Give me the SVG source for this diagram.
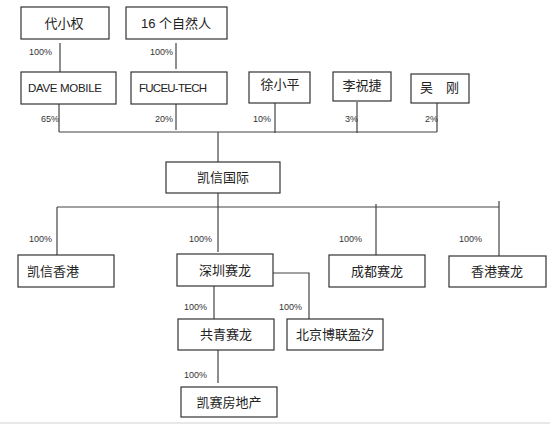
<svg xmlns="http://www.w3.org/2000/svg" width="550" height="424" viewBox="0 0 550 424">
<style>
.box{fill:#fff;stroke:#333;stroke-width:1.2}
.t{font-family:"Liberation Sans","Noto Sans CJK SC",sans-serif;font-size:13px;fill:#222}
.c{text-anchor:middle}
.e{font-family:"Liberation Sans","Noto Sans CJK SC",sans-serif;font-size:11.5px;fill:#222}
.p{font-family:"Liberation Sans",sans-serif;font-size:9px;fill:#333}
.ln{fill:none;stroke:#444;stroke-width:1.2}
</style>
<rect width="550" height="424" fill="#fff"/>
<rect x="0" y="422" width="550" height="2" fill="#e8e8e8"/>
<g id="connectors">
<path class="ln" d="M60 43V73M176 43V69M59 104V132M176 104V130M275 103V133M357 102V133M437 103V132M59 132H437M218 132V163M218 193V252M57 207H499M57 207V255M376 204V255M499 201V256M273 273H309V319M214 286V319M218 350V383"/>
<polyline points="139,96.5 141,95 143,96.5 145,95 147,96.5 149,95 151,96.5 153,95 155,96.5 157,95 159,96.5 161,95 163,96.5 165,95 167,96.5 169,95 171,96.5 173,95 175,96.5 177,95 179,96.5 181,95 183,96.5 185,95 187,96.5 189,95 191,96.5 193,95 195,96.5 197,95 199,96.5 201,95 203,96.5 205,95 207,96.5" fill="none" stroke="#e03030" stroke-width="0.8"/>
<text class="p" x="29" y="55">100%</text>
<text class="p" x="150" y="55">100%</text>
<text class="p" x="41" y="122">65%</text>
<text class="p" x="155" y="122">20%</text>
<text class="p" x="253" y="122">10%</text>
<text class="p" x="345" y="122">3%</text>
<text class="p" x="425" y="122">2%</text>
<text class="p" x="29" y="242">100%</text>
<text class="p" x="189" y="242">100%</text>
<text class="p" x="339" y="242">100%</text>
<text class="p" x="459" y="242">100%</text>
<text class="p" x="184" y="310">100%</text>
<text class="p" x="279" y="310">100%</text>
<text class="p" x="184" y="378">100%</text>
</g>
<g id="daixiaoquan"><rect class="box" x="21" y="7" width="88" height="32"/><text class="t c" x="64" y="28">代小权</text></g>
<g id="ziranren"><rect class="box" x="126" y="7" width="101" height="32"/><text class="t c" x="176" y="28">16 个自然人</text></g>
<g id="davemobile"><rect class="box" x="21" y="72" width="95" height="32"/><text class="e" x="28" y="92" textLength="74">DAVE MOBILE</text></g>
<g id="fuceutech"><rect class="box" x="131" y="72" width="96" height="32"/><text class="e" x="139" y="92" textLength="68">FUCEU-TECH</text></g>
<g id="xuxiaoping"><rect class="box" x="249" y="72" width="61" height="31"/><text class="t c" x="280" y="89">徐小平</text></g>
<g id="lizhujie"><rect class="box" x="333" y="72" width="58" height="29"/><text class="t c" x="362" y="90">李祝捷</text></g>
<g id="wugang"><rect class="box" x="411" y="74" width="58" height="29"/><text class="t" x="420" y="92">吴　刚</text></g>
<g id="kaixinguoji"><rect class="box" x="166" y="162" width="114" height="31"/><text class="t c" x="223" y="182">凯信国际</text></g>
<g id="kaixinxianggang"><rect class="box" x="18" y="255" width="96" height="32"/><text class="t" x="27" y="276">凯信香港</text></g>
<g id="shenzhensailong"><rect class="box" x="177" y="254" width="96" height="32"/><text class="t c" x="225" y="275">深圳赛龙</text></g>
<g id="chengdusailong"><rect class="box" x="329" y="255" width="96" height="32"/><text class="t c" x="377" y="276">成都赛龙</text></g>
<g id="xianggangsailong"><rect class="box" x="449" y="256" width="97" height="31"/><text class="t c" x="497" y="276">香港赛龙</text></g>
<g id="gongqingsailong"><rect class="box" x="178" y="319" width="96" height="31"/><text class="t c" x="226" y="339">共青赛龙</text></g>
<g id="beijingbolian"><rect class="box" x="287" y="319" width="96" height="31"/><text class="t c" x="335" y="339">北京博联盈汐</text></g>
<g id="kaisaifangdichan"><rect class="box" x="181" y="387" width="96" height="30"/><text class="t c" x="229" y="407">凯赛房地产</text></g>
</svg>
